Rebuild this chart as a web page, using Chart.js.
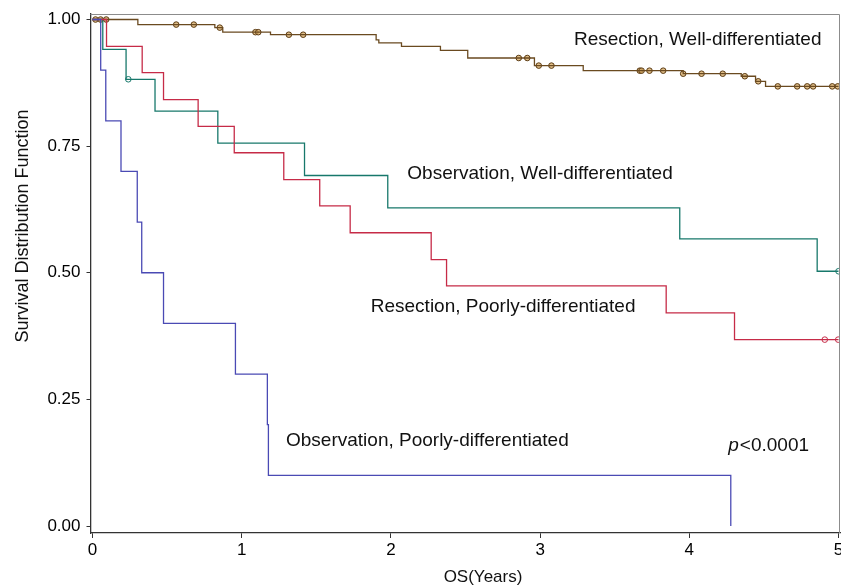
<!DOCTYPE html>
<html>
<head>
<meta charset="utf-8">
<script src="https://cdn.jsdelivr.net/npm/chart.js"></script>
<style>
  html, body { margin: 0; padding: 0; background: #fff; }
</style>
</head>
<body>
<canvas id="km" width="841" height="586"></canvas>
<script>
// tick values
const xTicks = [0, 1, 2, 3, 4, 5];
const yTicks = [0, 0.25, 0.5, 0.75, 1];

// Resection, Well-differentiated (step curve + censored marks)
const resWellTime = [0, 0.304, 0.820, 0.873, 1.193, 1.901, 1.919, 2.071, 2.332, 2.515, 2.962, 3.289, 3.959, 4.348, 4.444, 4.511, 5.0];
const resWellSurv = [1, 0.990, 0.984, 0.975, 0.970, 0.960, 0.954, 0.947, 0.939, 0.924, 0.909, 0.899, 0.893, 0.888, 0.878, 0.868, 0.868];
const resWellCensTime = [0.020, 0.054, 0.092, 0.561, 0.679, 0.853, 1.092, 1.111, 1.316, 1.412, 2.857, 2.914, 2.991, 3.076,
  3.668, 3.680, 3.733, 3.825, 3.959, 4.082, 4.224, 4.372, 4.462, 4.593, 4.723, 4.790, 4.830, 4.958, 4.995];
const resWellCensSurv = [1, 1, 1, 0.990, 0.990, 0.984, 0.975, 0.975, 0.970, 0.970, 0.924, 0.924, 0.909, 0.909,
  0.899, 0.899, 0.899, 0.899, 0.893, 0.893, 0.893, 0.888, 0.878, 0.868, 0.868, 0.868, 0.868, 0.868, 0.868];

// Observation, Well-differentiated
const obsWellTime = [0, 0.069, 0.225, 0.419, 0.840, 1.421, 1.979, 3.936, 4.857, 5.0];
const obsWellSurv = [1, 0.941, 0.882, 0.819, 0.756, 0.692, 0.628, 0.567, 0.503, 0.503];
const obsWellCensTime = [0.240, 5.0];
const obsWellCensSurv = [0.882, 0.503];

// Resection, Poorly-differentiated
const resPoorTime = [0, 0.094, 0.333, 0.476, 0.708, 0.950, 1.282, 1.523, 1.727, 2.270, 2.373, 3.845, 4.303, 5.0];
const resPoorSurv = [1, 0.947, 0.895, 0.842, 0.789, 0.737, 0.684, 0.632, 0.579, 0.526, 0.474, 0.421, 0.368, 0.368];
const resPoorCensTime = [4.908, 4.998];
const resPoorCensSurv = [0.368, 0.368];

// Observation, Poorly-differentiated
const obsPoorTime = [0, 0.055, 0.089, 0.191, 0.300, 0.330, 0.476, 0.958, 1.172, 1.179, 4.278];
const obsPoorSurv = [1, 0.9, 0.8, 0.7, 0.6, 0.5, 0.4, 0.3, 0.2, 0.1, 0.0];

const groupNames = [
  'Resection, Well-differentiated',
  'Observation, Well-differentiated',
  'Resection, Poorly-differentiated',
  'Observation, Poorly-differentiated'
];

const FONT = '"Liberation Sans", Arial, Helvetica, sans-serif';

function pts(times, surv) {
  return times.map((t, i) => ({ x: t, y: surv[i] }));
}

function stepSet(name, times, surv, color) {
  return {
    label: name,
    data: pts(times, surv),
    showLine: true,
    stepped: 'before',
    borderColor: color,
    borderWidth: 1.3,
    pointRadius: 0,
    fill: false
  };
}

function censSet(name, times, surv, color, fillColor) {
  return {
    label: name + ' (censored)',
    data: pts(times, surv),
    showLine: false,
    pointStyle: 'circle',
    pointRadius: 2.8,
    pointBorderWidth: 1,
    pointBorderColor: color,
    pointBackgroundColor: fillColor
  };
}

// where the curve names sit (data units: years, survival at baseline)
const labelSpots = [
  { text: groupNames[0], x: 3.227, y: 0.9506 },
  { text: groupNames[1], x: 2.110, y: 0.6852 },
  { text: groupNames[2], x: 1.865, y: 0.4235 },
  { text: groupNames[3], x: 1.297, y: 0.1581 }
];

const annotate = {
  id: 'annotate',
  afterDraw(chart) {
    const { ctx, chartArea: a, scales } = chart;
    const x = scales.x, y = scales.y;
    ctx.save();
    // top and right frame
    ctx.strokeStyle = '#8c8c8c';
    ctx.lineWidth = 1;
    ctx.beginPath();
    ctx.moveTo(a.left, a.top + 0.5);
    ctx.lineTo(a.right - 0.5, a.top + 0.5);
    ctx.lineTo(a.right - 0.5, a.bottom);
    ctx.stroke();

    ctx.fillStyle = '#111';
    ctx.textBaseline = 'alphabetic';
    ctx.textAlign = 'left';
    ctx.font = '19px ' + FONT;
    labelSpots.forEach(s => {
      ctx.fillText(s.text, x.getPixelForValue(s.x), y.getPixelForValue(s.y));
    });

    // p-value, italic p
    let px = x.getPixelForValue(4.261), py = y.getPixelForValue(0.1488);
    ctx.font = 'italic 19px ' + FONT;
    ctx.fillText('p', px, py);
    px += ctx.measureText('p').width + 1;
    ctx.font = '19px ' + FONT;
    ctx.fillText('<0.0001', px, py);

    // axis titles
    ctx.font = '17px ' + FONT;
    ctx.textAlign = 'center';
    ctx.fillText('OS(Years)', 483, 582);
    ctx.font = '18px ' + FONT;
    ctx.translate(28, 226);
    ctx.rotate(-Math.PI / 2);
    ctx.fillText('Survival Distribution Function', 0, 0);
    ctx.restore();
  }
};

new Chart(document.getElementById('km'), {
  type: 'scatter',
  data: {
    datasets: [
      stepSet(groupNames[3], obsPoorTime, obsPoorSurv, '#4a4ab4'),
      stepSet(groupNames[2], resPoorTime, resPoorSurv, '#c62b47'),
      stepSet(groupNames[1], obsWellTime, obsWellSurv, '#17786b'),
      stepSet(groupNames[0], resWellTime, resWellSurv, '#6a4a20'),
      censSet(groupNames[2], resPoorCensTime, resPoorCensSurv, '#c62b47', 'rgba(255,255,255,0.6)'),
      censSet(groupNames[1], obsWellCensTime, obsWellCensSurv, '#17786b', 'rgba(255,255,255,0.6)'),
      censSet(groupNames[0], resWellCensTime, resWellCensSurv, '#5a3a12', 'rgba(214,168,96,0.75)')
    ]
  },
  options: {
    responsive: false,
    animation: false,
    layout: { autoPadding: false, padding: { left: 0, right: 1, top: 14, bottom: 0 } },
    plugins: {
      legend: { display: false },
      tooltip: { enabled: false }
    },
    scales: {
      x: {
        type: 'linear',
        min: -0.0134,
        max: 5.010,
        afterBuildTicks: s => { s.ticks = xTicks.map(v => ({ value: v })); },
        afterFit: s => { s.height = 53; s.paddingLeft = 0; s.paddingRight = 0; },
        ticks: {
          color: '#000',
          font: { family: FONT, size: 17 },
          padding: 2,
          maxRotation: 0,
          callback: v => String(v)
        },
        grid: { drawOnChartArea: false, drawTicks: true, tickLength: 5, color: '#333' },
        border: { display: true, color: '#333', width: 1.3 }
      },
      y: {
        type: 'linear',
        min: -0.0138,
        max: 1.0109,
        afterBuildTicks: s => { s.ticks = yTicks.map(v => ({ value: v })); },
        afterFit: s => { s.width = 90.5; s.paddingTop = 0; s.paddingBottom = 0; },
        ticks: {
          color: '#000',
          font: { family: FONT, size: 17 },
          padding: 6,
          callback: v => Number(v).toFixed(2)
        },
        grid: { drawOnChartArea: false, drawTicks: true, tickLength: 4, color: '#333' },
        border: { display: true, color: '#333', width: 1.3 }
      }
    }
  },
  plugins: [annotate]
});
</script>
</body>
</html>
